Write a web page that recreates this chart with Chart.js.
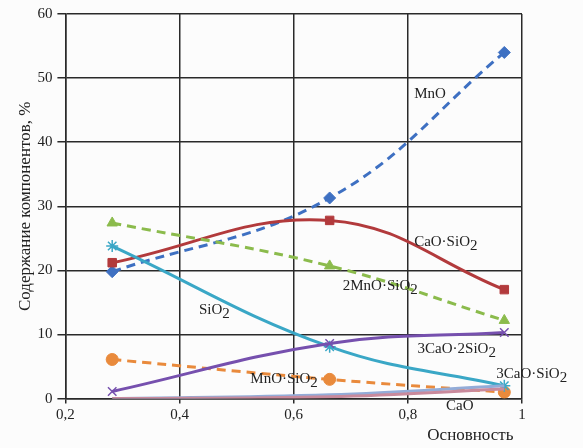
<!DOCTYPE html>
<html>
<head>
<meta charset="utf-8">
<script src="https://cdn.jsdelivr.net/npm/chart.js@4"></script>
<style>
  html, body { margin: 0; padding: 0; background: #fcfcfc; }
  #wrap { width: 583px; height: 448px; }
</style>
</head>
<body>
<div id="wrap"><canvas id="c"></canvas></div>
<script>
// basicity values (x) where phases were computed
const basicity = [0.282, 0.663, 0.969];

// content of components, %
const mno = [19.8, 31.3, 54];
const caoSio2 = [21.2, 27.8, 17];
const mn2Sio2 = [27.4, 20.7, 12.2];
const sio2 = [23.8, 8.1, 2.0];
const ca3Si2 = [1.1, 8.6, 10.3];
const mnoSio2 = [6.1, 3.0, 1.0];
const cao = [0.0, 0.3, 1.5];
const ca3Sio2 = [0.0, 0.6, 2.0];

const xTicks = [0.2, 0.4, 0.6, 0.8, 1];
const xTickLabels = ['0,2', '0,4', '0,6', '0,8', '1'];

// text labels placed at data coordinates: [text, x, y] ("_2" = subscript)
const seriesLabels = [
  ['MnO', 0.811, 47.5],
  ['CaO·SiO_2', 0.811, 24.4],
  ['2MnO·SiO_2', 0.686, 17.5],
  ['SiO_2', 0.434, 13.8],
  ['3CaO·2SiO_2', 0.817, 7.8],
  ['3CaO·SiO_2', 0.955, 3.9],
  ['MnO·SiO_2', 0.524, 3.0],
  ['CaO', 0.867, -1.1]
];

const pts = arr => arr.map((v, i) => ({ x: basicity[i], y: v }));

function ds(label, data, color, style, dashed) {
  return {
    label: label,
    data: pts(data),
    borderColor: color,
    backgroundColor: color,
    borderWidth: 3,
    borderDash: dashed ? [9, 6] : [],
    pointStyle: style,
    pointRadius: style ? 6 : 0,
    pointBorderWidth: style === 'star' || style === 'crossRot' ? 1.5 : 1,
    tension: 0.4,
    fill: false
  };
}

const labelPlugin = {
  id: 'seriesLabels',
  afterDatasetsDraw(chart) {
    const ctx = chart.ctx;
    const xs = chart.scales.x, ys = chart.scales.y;
    ctx.save();
    ctx.fillStyle = '#222';
    ctx.textBaseline = 'middle';
    ctx.font = '15px "Liberation Serif"';
    seriesLabels.forEach(([txt, x, y]) => {
      let px = xs.getPixelForValue(x);
      const py = ys.getPixelForValue(y);
      txt.split('_').forEach((part, k) => {
        if (k === 0) {
          ctx.fillText(part, px, py);
          px += ctx.measureText(part).width;
        } else {
          const sub = part.charAt(0), rest = part.slice(1);
          ctx.fillText(sub, px, py + 4);
          px += ctx.measureText(sub).width;
          ctx.fillText(rest, px, py);
          px += ctx.measureText(rest).width;
        }
      });
    });
    ctx.restore();
  }
};

new Chart(document.getElementById('c'), {
  type: 'line',
  data: {
    datasets: [
      ds('CaO', cao, '#c98a9c', false, false),
      ds('3CaO·SiO2', ca3Sio2, '#93acd8', false, false),
      ds('3CaO·2SiO2', ca3Si2, '#7650ae', 'crossRot', false),
      ds('SiO2', sio2, '#3aa7c6', 'star', false),
      ds('MnO·SiO2', mnoSio2, '#e98a3c', 'circle', true),
      ds('2MnO·SiO2', mn2Sio2, '#8bbb4c', 'triangle', true),
      ds('CaO·SiO2', caoSio2, '#b23a3c', 'rect', false),
      ds('MnO', mno, '#3e70c2', 'rectRot', true)
    ]
  },
  options: {
    responsive: true,
    maintainAspectRatio: false,
    animation: false,
    layout: { padding: { top: 12, right: 61, left: 15, bottom: 2 } },
    plugins: {
      legend: { display: false },
      tooltip: { enabled: false }
    },
    scales: {
      x: {
        type: 'linear',
        min: 0.2,
        max: 1,
        afterBuildTicks: s => { s.ticks = xTicks.map(v => ({ value: v })); },
        ticks: {
          color: '#222',
          font: { family: 'Liberation Serif', size: 15 },
          padding: 2,
          callback: v => xTickLabels[xTicks.findIndex(t => Math.abs(t - v) < 1e-6)],
          maxRotation: 0
        },
        grid: { color: '#2a2a2a', lineWidth: 1.5, tickLength: 5 },
        border: { color: '#2a2a2a', width: 1.5 },
        title: {
          display: true,
          text: 'Основность\u00a0\u00a0',
          align: 'end',
          color: '#222',
          font: { family: 'Liberation Serif', size: 17 },
          padding: { top: 0, bottom: 0 }
        }
      },
      y: {
        min: 0,
        max: 60,
        ticks: {
          stepSize: 10,
          color: '#222',
          font: { family: 'Liberation Serif', size: 15 },
          padding: 5
        },
        grid: { color: '#2a2a2a', lineWidth: 1.5, tickLength: 8 },
        border: { color: '#2a2a2a', width: 1.5 },
        title: {
          display: true,
          text: 'Содержание компонентов, %',
          color: '#222',
          font: { family: 'Liberation Serif', size: 17 },
          padding: { top: 0, bottom: -3 }
        }
      }
    }
  },
  plugins: [labelPlugin]
});
</script>
</body>
</html>
